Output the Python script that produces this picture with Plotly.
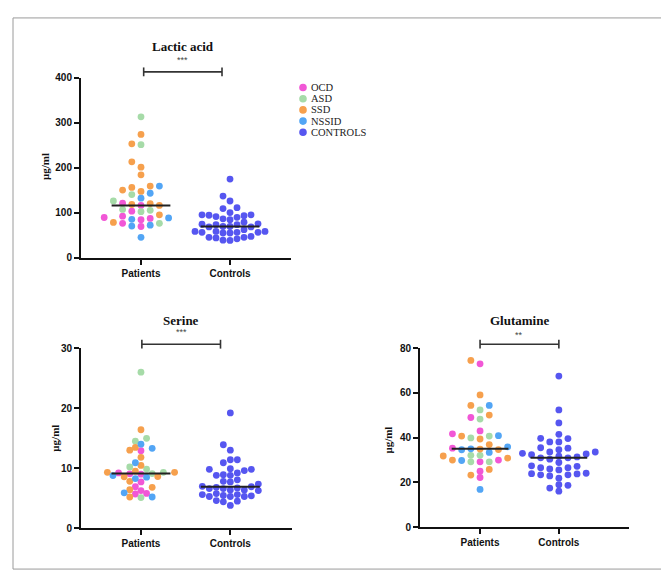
import numpy as np
import plotly.graph_objects as go

# ---------------- data ----------------
categories = ["Patients", "Controls"]
group_names = ["OCD", "ASD", "SSD", "NSSID", "CONTROLS"]
group_colors = ["#F157D6", "#A6DBA8", "#F6A04D", "#52A5F5", "#5656F0"]

lactic_ocd = [116, 121, 103, 84, 89, 87, 92, 76, 69]
lactic_asd = [313, 251, 140, 126, 107, 102, 105, 76]
lactic_ssd = [274, 253, 213, 201, 184, 150, 159, 147, 156, 116, 120, 118, 95, 78]
lactic_nssid = [159, 132, 143, 88, 85, 70, 72, 45]
lactic_controls = [174.5, 136.7, 125.8, 109, 111, 95, 95, 100, 93, 91, 94, 78.5, 89.5, 86, 84,
                   69, 73, 73, 75, 69, 68, 68, 74, 56, 54.5, 58, 58, 58, 54.5, 56, 56, 62,
                   41.5, 47, 43.6, 45, 38, 45, 38.5]

serine_ocd = [12.9, 9.2, 9.05, 9.0, 7.7, 6.9, 6.26, 5.7, 5.8]
serine_asd = [26.0, 14.97, 14.5, 9.85, 10.2, 9.3, 9.1, 5.1]
serine_ssd = [16.4, 13.45, 13.0, 11.8, 10.45, 9.3, 9.3, 9.5, 8.55, 8.6, 7.8, 6.4, 6.8, 5.2]
serine_nssid = [13.3, 14.0, 10.9, 8.27, 8.5, 8.76, 5.9, 5.2]
serine_controls = [19.2, 13.9, 13.0, 11.4, 11.4, 10.9, 9.8, 9.8, 9.6, 9.9, 8.8, 8.8, 9.2, 8.9,
                   8.05, 7.7, 7.8, 7.35, 6.6, 6.9, 6.6, 6.26, 6.37, 6.97, 6.37, 6.7, 6.8,
                   5.6, 5.77, 5.28, 5.45, 5.39, 5.28, 5.28, 5.6, 4.5, 4.6, 4.4, 3.8]

glutamine_ocd = [73.0, 49.0, 43.0, 41.7, 35.3, 29.2, 30.0, 25.0, 22.2]
glutamine_asd = [52.4, 48.3, 39.9, 40.7, 32.1, 32.1, 29.2, 29.2]
glutamine_ssd = [74.5, 59.1, 54.4, 50.1, 40.7, 39.4, 36.9, 34.7, 34.9, 30.0, 30.9, 31.8, 25.8, 23.3]
glutamine_nssid = [54.4, 40.9, 35.0, 35.9, 34.6, 33.4, 29.8, 16.9]
glutamine_controls = [67.5, 52.4, 46.6, 41.5, 39.6, 39.7, 38.1, 38.1, 32.7, 33.6, 33.6, 34.6,
                      33.0, 35.5, 35.3, 32.4, 25.6, 31.0, 31.0, 31.4, 30.4, 31.7, 28.9, 27.4,
                      26.6, 27.2, 23.4, 24.1, 26.6, 22.9, 26.0, 23.4, 23.8, 21.9, 23.9, 19.0,
                      18.7, 17.5, 16.1]

lactic_ticks = [0, 100, 200, 300, 400]
serine_ticks = [0, 10, 20, 30]
glutamine_ticks = [0, 20, 40, 60, 80]

# ---------------- layout geometry (pixels) ----------------
W, H = 669, 570
panels = [
    dict(title="Lactic acid", stars="***", xpx=(73, 283), ypx=(65, 248.3), xr=(-0.674, 1.685),
         yr=(0, 400), ticks=lactic_ticks,
         groups=[lactic_ocd, lactic_asd, lactic_ssd, lactic_nssid], controls=lactic_controls,
         slots=(9.2, 7.0),
         bracket=(0.03, 0.91), bracket_py=59, stars_py=47, title_py=33, ylab=(37, 156), half=0.33),
    dict(title="Serine", stars="***", xpx=(73, 284), ypx=(340.7, 524.3), xr=(-0.671, 1.69),
         yr=(0, 30), ticks=serine_ticks,
         groups=[serine_ocd, serine_asd, serine_ssd, serine_nssid], controls=serine_controls,
         slots=(5.6, 7.0),
         bracket=(0.01, 0.89), bracket_py=336.7, stars_py=324.7, title_py=312.7, ylab=(47, 433), half=0.33),
    dict(title="Glutamine", stars="**", xpx=(412, 621), ypx=(340.7, 523.3), xr=(-0.762, 1.89),
         yr=(0, 80), ticks=glutamine_ticks,
         groups=[glutamine_ocd, glutamine_asd, glutamine_ssd, glutamine_nssid], controls=glutamine_controls,
         slots=(9.2, 9.1),
         bracket=(0.0, 1.0), bracket_py=336.7, stars_py=327, title_py=312.7, ylab=(380, 435), half=0.36),
]

MARKER = 6.8
MIN_DIST = 6.2


def column_swarm(vals, ppy, slot, d):
    """Greedy column-grid swarm: each point keeps its value, goes to the first
    free column (0, -1, +1, -2, +2, ...) that does not overlap earlier points."""
    vals = np.asarray(vals, float)
    order = np.argsort(vals, kind="stable")
    xs = np.zeros(len(vals))
    placed = []
    cols = [0]
    for k in range(1, 40):
        cols += [-k, k]
    for i in order:
        y = vals[i] * ppy
        for c in cols:
            x = c * slot
            if all((x - xj) ** 2 + (y - yj) ** 2 >= d * d for xj, yj in placed):
                xs[i] = x
                break
        placed.append((xs[i], y))
    return xs


def px2paper(px, py):
    return px / W, 1 - py / H


def data2paper(p, x):
    x0, x1 = p["xpx"]
    return (x0 + (x - p["xr"][0]) / (p["xr"][1] - p["xr"][0]) * (x1 - x0)) / W


fig = go.Figure()
shapes = []
annotations = []
axis_common = dict(showgrid=False, zeroline=False, showline=True, linecolor="#111", linewidth=2,
                   ticks="outside", ticklen=5, tickwidth=2, tickcolor="#111",
                   tickfont=dict(family="Liberation Sans, Arial", size=10, color="#111", weight="bold"))

for k, p in enumerate(panels, start=1):
    xa = "x" if k == 1 else f"x{k}"
    ya = "y" if k == 1 else f"y{k}"
    x0, x1 = p["xpx"]
    yt, yb = p["ypx"]
    ppx = (x1 - x0) / (p["xr"][1] - p["xr"][0])
    ppy = (yb - yt) / (p["yr"][1] - p["yr"][0])

    # patients
    pvals, pcols = [], []
    for g, col in zip(p["groups"], group_colors[:4]):
        pvals += list(g)
        pcols += [col] * len(g)
    pvals = np.array(pvals, float)
    poff = column_swarm(pvals, ppy, p["slots"][0], MIN_DIST) / ppx
    fig.add_trace(go.Scatter(x=0 + poff, y=pvals, mode="markers", xaxis=xa, yaxis=ya,
                             marker=dict(size=MARKER, color=pcols, line=dict(width=0)),
                             cliponaxis=False, showlegend=False, hoverinfo="y"))
    cvals = np.array(p["controls"], float)
    coff = column_swarm(cvals, ppy, p["slots"][1], MIN_DIST) / ppx
    fig.add_trace(go.Scatter(x=1 + coff, y=cvals, mode="markers", xaxis=xa, yaxis=ya,
                             marker=dict(size=MARKER, color=group_colors[4], line=dict(width=0)),
                             cliponaxis=False, showlegend=False, hoverinfo="y"))
    # medians
    for ci, vals in enumerate([pvals, cvals]):
        m = float(np.median(vals))
        fig.add_trace(go.Scatter(x=[ci - p["half"], ci + p["half"]], y=[m, m], mode="lines",
                                 xaxis=xa, yaxis=ya, line=dict(color="#222", width=2),
                                 showlegend=False, hoverinfo="skip"))

    fig.update_layout({
        ("xaxis" if k == 1 else f"xaxis{k}"): dict(
            domain=[x0 / W, x1 / W], range=list(p["xr"]), anchor=ya,
            tickvals=[0, 1], ticktext=categories, **axis_common),
        ("yaxis" if k == 1 else f"yaxis{k}"): dict(
            domain=[1 - yb / H, 1 - yt / H], range=list(p["yr"]), anchor=xa,
            tickvals=p["ticks"], **axis_common),
    })

    # bracket
    bx0 = data2paper(p, p["bracket"][0])
    bx1 = data2paper(p, p["bracket"][1])
    by = 1 - p["bracket_py"] / H
    bh = 4.5 / H
    line = dict(color="#333", width=1.6)
    shapes.append(dict(type="line", xref="paper", yref="paper", x0=bx0, x1=bx1, y0=by, y1=by, line=line))
    shapes.append(dict(type="line", xref="paper", yref="paper", x0=bx0, x1=bx0, y0=by - bh, y1=by + bh, line=line))
    shapes.append(dict(type="line", xref="paper", yref="paper", x0=bx1, x1=bx1, y0=by - bh, y1=by + bh, line=line))
    cx = (bx0 + bx1) / 2
    annotations.append(dict(text=p["stars"], x=cx, y=1 - p["stars_py"] / H, xref="paper", yref="paper",
                            showarrow=False, xanchor="center", yanchor="middle",
                            font=dict(family="Liberation Sans, Arial", size=9, color="#444")))
    annotations.append(dict(text=p["title"], x=cx, y=1 - p["title_py"] / H, xref="paper", yref="paper",
                            showarrow=False, xanchor="center", yanchor="middle",
                            font=dict(family="Liberation Serif, Times New Roman", size=13, color="#111",
                                      weight="bold")))
    lx, ly = px2paper(*p["ylab"])
    annotations.append(dict(text="μg/ml", x=lx, y=ly, xref="paper", yref="paper", textangle=-90,
                            showarrow=False, xanchor="center", yanchor="middle",
                            font=dict(family="Liberation Serif, Times New Roman", size=11, color="#111",
                                      weight="bold")))

# legend (manual)
leg_x, leg_y0, leg_dy = 295, 75, 11.4
for i, (name, col) in enumerate(zip(group_names, group_colors)):
    yy = 1 - (leg_y0 + i * leg_dy) / H
    shapes.append(dict(type="circle", xref="paper", yref="paper", xsizemode="pixel", ysizemode="pixel",
                       xanchor=leg_x / W, yanchor=yy, x0=-3.8, x1=3.8, y0=-3.8, y1=3.8,
                       fillcolor=col, line=dict(width=0)))
    annotations.append(dict(text=name, x=(leg_x + 5.5) / W, y=yy, xref="paper", yref="paper",
                            showarrow=False, xanchor="left", yanchor="middle",
                            font=dict(family="Liberation Serif, Times New Roman", size=10.5, color="#222")))

# outer frame
shapes.append(dict(type="rect", xref="paper", yref="paper", x0=5 / W, x1=664 / W,
                   y0=1 - 566 / H, y1=1 - 4 / H, line=dict(color="#9a9a9a", width=1)))

fig.update_layout(width=W, height=H, autosize=False, margin=dict(l=0, r=0, t=0, b=0),
                  paper_bgcolor="white", plot_bgcolor="white", shapes=shapes, annotations=annotations,
                  showlegend=False)

fig.write_html("out.html")
